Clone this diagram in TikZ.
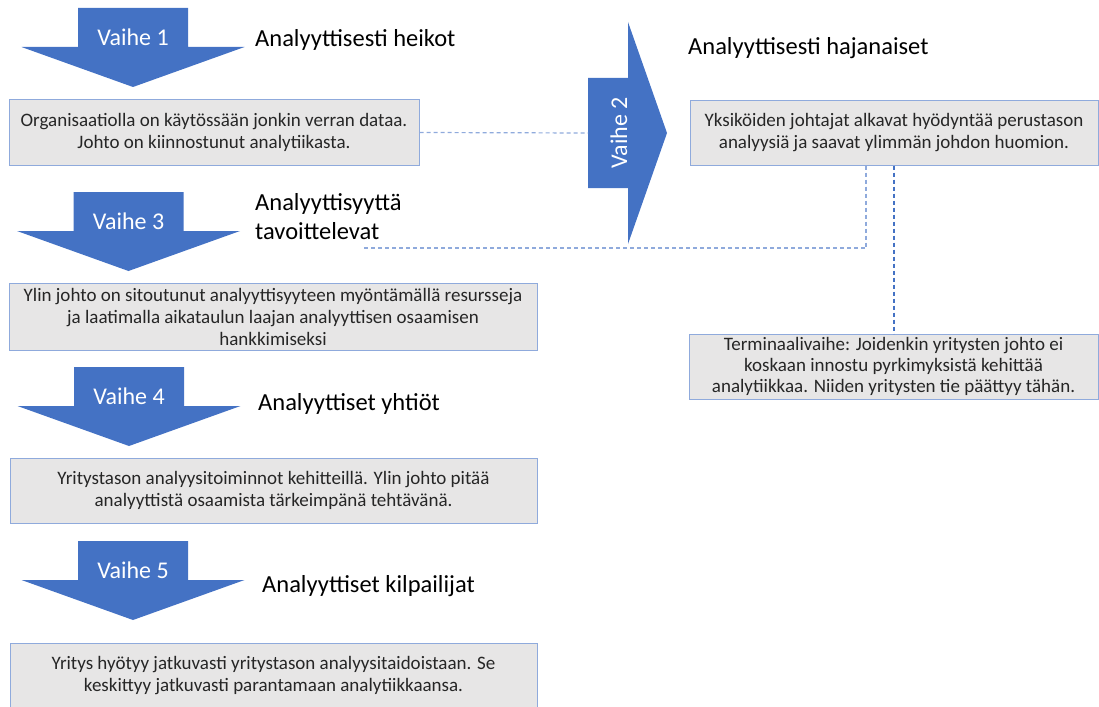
\documentclass[tikz,border=0pt]{standalone}
\usepackage{fontspec}
\setmainfont{Carlito}
\usepackage{tikz}
\usetikzlibrary{positioning,calc}
\definecolor{vaiheblue}{HTML}{4472C4}
\definecolor{boxgrey}{HTML}{E7E6E6}
\definecolor{boxline}{HTML}{8FAADC}
\definecolor{textgrey}{HTML}{262626}
% down arrow: centre x, top y
\newcommand{\vaihedown}[2]{%
  \fill[vaiheblue] (#1,#2) ++(-55,0) -- ++(110,0) -- ++(0,39) -- ++(56.5,0)
    -- ++(-111.5,40) -- ++(-111.5,-40) -- ++(56.5,0) -- cycle;}

\begin{document}
\begin{tikzpicture}[x=1pt,y=-1pt]
    \tikzstyle{box}=[rectangle, draw=boxline, fill=boxgrey, line width=1pt, align=center,
      text=textgrey, font=\fontsize{19}{22}\selectfont, inner sep=0pt]
    \tikzstyle{vaihe}=[text=white, font=\fontsize{24}{28}\selectfont, inner sep=0pt]
    \tikzstyle{title}=[anchor=base west, font=\fontsize{24.5}{29}\selectfont, inner sep=0pt, align=left]
    \tikzstyle{link}=[draw=boxline, line width=1.2pt, dash pattern=on 4pt off 3pt]
    \tikzstyle{linkdark}=[draw=vaiheblue, line width=1.2pt, dash pattern=on 4pt off 3pt]
    \useasboundingbox (0,0) rectangle (1099,706);

      \vaihedown{133}{8}
      \vaihedown{128.5}{192}
      \vaihedown{129}{367}
      \vaihedown{133}{541}
      \fill[vaiheblue] (588,78) -- (628,78) -- (628,22) -- (667,133) -- (628,244)
        -- (628,188) -- (588,188) -- cycle;

      \node[vaihe, anchor=base] (v1) at (133,46) {Vaihe 1};
      \node[vaihe, anchor=base, rotate=90] (v2) at (627,133) {Vaihe 2};
      \node[vaihe, anchor=base] (v3) at (128.5,229) {Vaihe 3};
      \node[vaihe, anchor=base] (v4) at (129,404) {Vaihe 4};
      \node[vaihe, anchor=base] (v5) at (133,578) {Vaihe 5};
      \coordinate (v2tail) at (588,133);

      \node[title] (heikot) at (255,47) {Analyyttisesti heikot};
      \node[title] (hajanaiset) at (688,55) {Analyyttisesti hajanaiset};
      \node[title] (tavoittelevat) at (255,239) {Analyyttisyyttä\\tavoittelevat};
      \node[title] (yhtiot) at (258,410) {Analyyttiset yhtiöt};
      \node[title] (kilpailijat) at (262,592) {Analyyttiset kilpailijat};

      \node[box, minimum width=410pt, minimum height=65pt] (b1) at (214,132.5)
        {Organisaatiolla on käytössään jonkin verran dataa.\\Johto on kiinnostunut analytiikasta.};
      \node[box, minimum width=408pt, minimum height=64pt] (b2) at (894,133)
        {Yksiköiden johtajat alkavat hyödyntää perustason\\analyysiä ja saavat ylimmän johdon huomion.};
      \node[box, minimum width=528pt, minimum height=67pt] (b3) at (273,316.5)
        {Ylin johto on sitoutunut analyyttisyyteen myöntämällä resursseja\\ja laatimalla aikataulun laajan analyyttisen osaamisen\\hankkimiseksi};
      \node[box, minimum width=527pt, minimum height=65pt] (b4) at (273.5,490.5)
        {Yritystason analyysitoiminnot kehitteillä. Ylin johto pitää\\analyyttistä osaamista tärkeimpänä tehtävänä.};
      \node[box, minimum width=527pt, minimum height=66pt] (b5) at (273.5,676)
        {Yritys hyötyy jatkuvasti yritystason analyysitaidoistaan. Se\\keskittyy jatkuvasti parantamaan analytiikkaansa.};
      \node[box, minimum width=409pt, minimum height=65pt, font=\fontsize{19}{21}\selectfont] (bt) at (893.5,366.5)
        {Terminaalivaihe: Joidenkin yritysten johto ei\\koskaan innostu pyrkimyksistä kehittää\\analytiikkaa. Niiden yritysten tie päättyy tähän.};
      \coordinate (d2end) at (364,248);

      \path[link] (b1.east) -- (v2tail);
      \path[link] ([xshift=-28pt]b2.south) |- (d2end);
      \path[linkdark] (b2.south) -- (b2.south |- bt.north);
\end{tikzpicture}
\end{document}
